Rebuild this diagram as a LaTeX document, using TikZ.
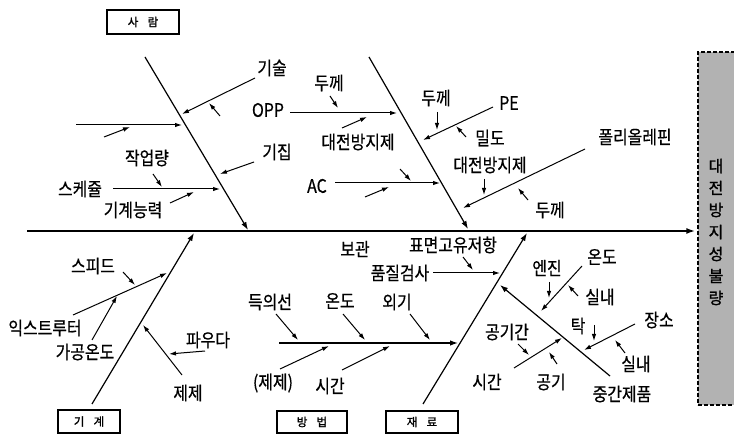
\documentclass[tikz,border=0pt]{standalone}
\usepackage{fontspec}
\newfontfamily\kr[FakeStretch=0.86,FakeBold=0.6]{Noto Sans CJK KR}
\newfontfamily\krb[FakeBold=1.4]{Noto Sans CJK KR}
\usetikzlibrary{arrows.meta}
\begin{document}
\begin{tikzpicture}[x=1pt,y=-1pt,
  lbl/.style={font=\kr\fontsize{18.5}{20}\selectfont, inner sep=0pt, anchor=center},
  catbox/.style={draw, line width=1.8pt, inner sep=0pt, font=\krb\fontsize{11.5}{13}\selectfont},
  effectbox/.style={draw, dashed, dash pattern=on 4pt off 2pt, line width=1.3pt, fill=black!30},
  spine/.style={line width=2pt, -{Latex[length=9pt,width=6pt]}},
  bone/.style={line width=1.2pt, -{Latex[length=8pt,width=5.5pt]}},
  twig/.style={line width=1pt, -{Latex[length=7pt,width=4.5pt]}}
]
\useasboundingbox (0,0) rectangle (734,435);

% effect box
\node[effectbox, minimum width=40pt, minimum height=353pt, inner sep=0pt] (effect) at (718,228.5) {};
\node[font=\krb\fontsize{16}{22}\selectfont, align=center, inner sep=0pt] (effecttext) at (716,232) {대\\전\\방\\지\\성\\불\\량};

% category boxes
\node[catbox, minimum width=72pt, minimum height=24pt] (saram) at (143,22) {사\hspace{0.8em}람};
\node[catbox, minimum width=62pt, minimum height=23pt] (gigye) at (89,421.5) {기\hspace{0.8em}계};
\node[catbox, minimum width=70pt, minimum height=22pt] (bangbeop) at (312,422) {방\hspace{0.8em}법};
\node[catbox, minimum width=72pt, minimum height=22pt] (jaeryo) at (422,422) {재\hspace{0.8em}료};

% spine
\coordinate (sL) at (27,231);
\draw[spine] (sL) -- ([xshift=-2pt]effect.west |- sL);

% ---------- 사람 bone ----------
\coordinate (b1s) at (145,57);
\coordinate (b1e) at (248,230);
\draw[bone] (b1s) -- (b1e);

\node[lbl] (gisul) at (272,68) {기술};
\coordinate (g1s) at (255,78); \coordinate (g1e) at (182,114);
\draw[twig] (g1s) -- (g1e);
\coordinate (g1ts) at (220,116); \coordinate (g1te) at (209,103);
\draw[twig] (g1ts) -- (g1te);

\coordinate (h1s) at (76,125); \coordinate (h1e) at (182,125);
\draw[twig] (h1s) -- (h1e);
\coordinate (h1ts) at (104,137); \coordinate (h1te) at (130,127);
\draw[twig] (h1ts) -- (h1te);

\node[lbl] (gijip) at (277,152) {기집};
\coordinate (gjs) at (254,162); \coordinate (gje) at (220,174);
\draw[twig] (gjs) -- (gje);

\node[lbl] (schedule) at (80,189) {스케쥴};
\coordinate (scs) at (113,189); \coordinate (sce) at (220,189);
\draw[twig] (scs) -- (sce);
\node[lbl] (jageop) at (147,158) {작업량};
\coordinate (jgs) at (153,174); \coordinate (jge) at (162,187);
\draw[twig] (jgs) -- (jge);
\node[lbl] (gigyeneung) at (133,210) {기계능력};
\coordinate (gns) at (170,203); \coordinate (gne) at (194,192);
\draw[twig] (gns) -- (gne);

% ---------- upper bone 2 ----------
\coordinate (b2s) at (369,57);
\coordinate (b2e) at (468,229);
\draw[bone] (b2s) -- (b2e);

\node[lbl] (opp) at (268,110) {OPP};
\coordinate (opps) at (290,113); \coordinate (oppe) at (397,113);
\draw[twig] (opps) -- (oppe);
\node[lbl] (dukke1) at (329,83) {두께};
\coordinate (d1s) at (330,96); \coordinate (d1e) at (338,108);
\draw[twig] (d1s) -- (d1e);
\node[lbl] (daejeon1) at (358,142) {대전방지제};
\coordinate (dj1s) at (342,128); \coordinate (dj1e) at (367,117);
\draw[twig] (dj1s) -- (dj1e);

\node[lbl] (ac) at (317,186) {AC};
\coordinate (acs) at (335,183); \coordinate (ace) at (440,183);
\draw[twig] (acs) -- (ace);
\coordinate (ac1s) at (400,169); \coordinate (ac1e) at (411,181);
\draw[twig] (ac1s) -- (ac1e);
\coordinate (ac2s) at (365,197); \coordinate (ac2e) at (389,187);
\draw[twig] (ac2s) -- (ac2e);

\node[lbl] (pe) at (509,103) {PE};
\coordinate (pes) at (493,107); \coordinate (pee) at (423,140);
\draw[twig] (pes) -- (pee);
\node[lbl] (dukke2) at (436,98) {두께};
\coordinate (d2s) at (437,112); \coordinate (d2e) at (437,130);
\draw[twig] (d2s) -- (d2e);
\node[lbl] (mildo) at (490,138) {밀도};
\coordinate (mds) at (466,137); \coordinate (mde) at (456,126);
\draw[twig] (mds) -- (mde);

\node[lbl] (poly) at (635,137) {폴리올레핀};
\coordinate (pos) at (585,149); \coordinate (poe) at (463,208);
\draw[twig] (pos) -- (poe);
\node[lbl] (daejeon2) at (490,165) {대전방지제};
\coordinate (dj2s) at (484,179); \coordinate (dj2e) at (484,195);
\draw[twig] (dj2s) -- (dj2e);
\node[lbl] (dukke3) at (550,210) {두께};
\coordinate (d3s) at (528,200); \coordinate (d3e) at (518,188);
\draw[twig] (d3s) -- (d3e);

% ---------- 기계 bone ----------
\coordinate (b3s) at (92,404);
\coordinate (b3e) at (194,233);
\draw[bone] (b3s) -- (b3e);

\node[lbl] (extruder) at (45,328) {익스트루터};
\coordinate (exs) at (73,315); \coordinate (exe) at (167,273);
\draw[twig] (exs) -- (exe);
\node[lbl] (speed) at (93,266) {스피드};
\coordinate (sps) at (123,272); \coordinate (spe) at (135,285);
\draw[twig] (sps) -- (spe);
\node[lbl] (gagong) at (85,352) {가공온도};
\coordinate (ggs) at (92,340); \coordinate (gge) at (117,296);
\draw[twig] (ggs) -- (gge);

\node[lbl] (jeje) at (188,393) {제제};
\coordinate (jjs) at (182,375); \coordinate (jje) at (143,325);
\draw[twig] (jjs) -- (jje);
\node[lbl] (powder) at (208,340) {파우다};
\coordinate (pws) at (205,351); \coordinate (pwe) at (169,354);
\draw[twig] (pws) -- (pwe);

% ---------- 방법 bone ----------
\coordinate (b4s) at (279,343);
\coordinate (b4e) at (458,343);
\draw[bone] (b4s) -- (b4e);

\node[lbl] (deuk) at (270,302) {득의선};
\coordinate (dks) at (276,314); \coordinate (dke) at (298,340);
\draw[twig] (dks) -- (dke);
\node[lbl] (ondo1) at (340,301) {온도};
\coordinate (od1s) at (343,314); \coordinate (od1e) at (365,340);
\draw[twig] (od1s) -- (od1e);
\node[lbl] (oegi) at (397,302) {외기};
\coordinate (ogs) at (410,314); \coordinate (oge) at (430,340);
\draw[twig] (ogs) -- (oge);
\node[lbl] (jejep) at (273,383) {(제제)};
\coordinate (jps) at (280,369); \coordinate (jpe) at (329,346);
\draw[twig] (jps) -- (jpe);
\node[lbl] (sigan1) at (330,386) {시간};
\coordinate (sg1s) at (342,370); \coordinate (sg1e) at (390,346);
\draw[twig] (sg1s) -- (sg1e);

% ---------- 재료 bone ----------
\coordinate (b5s) at (423,404);
\coordinate (b5e) at (527,233);
\draw[bone] (b5s) -- (b5e);

\node[lbl] (bogwan) at (355,249) {보관};
\node[lbl] (pyomyeon) at (453,245) {표면고유저항};
\coordinate (pms) at (463,257); \coordinate (pme) at (473,270);
\draw[twig] (pms) -- (pme);
\node[lbl] (pumjil) at (400,273) {품질검사};
\coordinate (pjs) at (433,273); \coordinate (pje) at (500,273);
\draw[twig] (pjs) -- (pje);

\node[lbl] (junggan) at (622,394) {중간제품};
\coordinate (jgbs) at (610,376); \coordinate (jgbe) at (500,285);
\draw[bone] (jgbs) -- (jgbe);

\node[lbl] (ondo2) at (602,257) {온도};
\coordinate (od2s) at (582,266); \coordinate (od2e) at (541,311);
\draw[twig] (od2s) -- (od2e);
\node[lbl] (enjin) at (547,268) {엔진};
\coordinate (ejs) at (549,282); \coordinate (eje) at (549,298);
\draw[twig] (ejs) -- (eje);
\node[lbl] (silnae1) at (600,297) {실내};
\coordinate (sn1s) at (578,296); \coordinate (sn1e) at (568,285);
\draw[twig] (sn1s) -- (sn1e);

\node[lbl] (jangso) at (659,320) {장소};
\coordinate (jss) at (635,324); \coordinate (jse) at (584,350);
\draw[twig] (jss) -- (jse);
\node[lbl] (tak) at (578,326) {탁};
\coordinate (tks) at (594,325); \coordinate (tke) at (594,341);
\draw[twig] (tks) -- (tke);
\node[lbl] (silnae2) at (636,364) {실내};
\coordinate (sn2s) at (625,353); \coordinate (sn2e) at (615,340);
\draw[twig] (sn2s) -- (sn2e);

\node[lbl] (sigan2) at (487,382) {시간};
\coordinate (sg2s) at (514,368); \coordinate (sg2e) at (562,338);
\draw[twig] (sg2s) -- (sg2e);
\node[lbl] (gonggigan) at (507,332) {공기간};
\coordinate (ggns) at (518,344); \coordinate (ggne) at (529,355);
\draw[twig] (ggns) -- (ggne);
\node[lbl] (gonggi) at (551,382) {공기};
\coordinate (gos) at (557,364); \coordinate (goe) at (549,352);
\draw[twig] (gos) -- (goe);

\end{tikzpicture}
\end{document}
